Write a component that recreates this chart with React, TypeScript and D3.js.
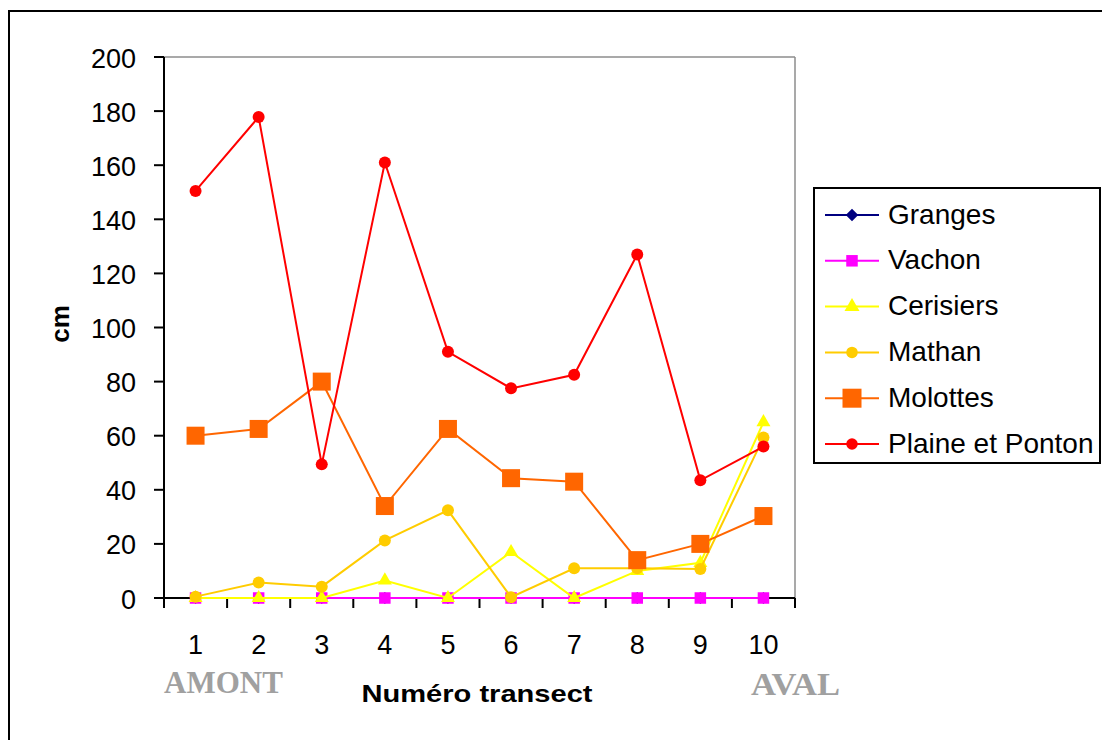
import React from "react";
import * as d3 from "d3";

const categories = ["1", "2", "3", "4", "5", "6", "7", "8", "9", "10"];
const yTicks = [0, 20, 40, 60, 80, 100, 120, 140, 160, 180, 200];

const granges = [0, 0, 0, 0, 0, 0, 0, 0, 0, 0];
const vachon = [0, 0, 0, 0, 0, 0, 0, 0, 0, 0];
const cerisiers = [0, 0, 0, 6.5, 0, 17, 0, 10, 13, 65];
const mathan = [0.5, 5.7, 4.2, 21.3, 32.4, 0.3, 11, 11, 10.7, 59.3];
const molottes = [60, 62.5, 80, 34, 62.5, 44.3, 43, 14, 20, 30.3];
const plaine = [150.5, 177.8, 49.4, 161, 91, 77.5, 82.5, 127, 43.5, 56];

const seriesNames = ["Granges", "Vachon", "Cerisiers", "Mathan", "Molottes", "Plaine et Ponton"];
const seriesValues = [granges, vachon, cerisiers, mathan, molottes, plaine];
const seriesColors = ["#000080", "#FF00FF", "#FFFF00", "#FFCC00", "#FF6600", "#FF0000"];
const seriesMarkers = ["diamond", "square", "triangle", "circle", "bigsquare", "circle"];
const markerSizes = [12, 11.5, 14, 12, 18, 12];
const legendMarkerSizes = [12.5, 11.5, 15, 11.5, 19, 11.5];

function Marker({ kind, x, y, color, size }: { kind: string; x: number; y: number; color: string; size: number }) {
  if (kind === "circle") return <circle cx={x} cy={y} r={size / 2} fill={color} />;
  if (kind === "square" || kind === "bigsquare")
    return <rect x={x - size / 2} y={y - size / 2} width={size} height={size} fill={color} />;
  if (kind === "diamond") {
    const h = size / 2;
    return <path d={`M${x},${y - h}L${x + h},${y}L${x},${y + h}L${x - h},${y}Z`} fill={color} />;
  }
  const area = (Math.sqrt(3) / 4) * size * size;
  const p = d3.symbol().type(d3.symbolTriangle).size(area)() as string;
  return <path d={p} transform={`translate(${x},${y})`} fill={color} />;
}

export default function App() {
  const x = d3.scaleBand<string>().domain(categories).range([164, 795]).padding(0);
  const y = d3.scaleLinear().domain([0, 200]).range([598, 57]);
  const cx = (c: string) => (x(c) as number) + x.bandwidth() / 2;
  const line = d3
    .line<number>()
    .x((_, i) => cx(categories[i]))
    .y((d) => y(d));

  const font = "'Liberation Sans', Arial, sans-serif";
  const serif = "'Liberation Serif', 'Times New Roman', serif";
  const legendRowY = (i: number) => 215 + i * 45.8;

  return (
    <svg
      width={1102}
      height={740}
      style={{ position: "absolute", left: 0, top: 0, background: "#fff" }}
      fontFamily={font}
    >
      <rect x={0} y={0} width={1102} height={740} fill="#fff" />
      <rect x={9} y={11} width={1110} height={760} fill="none" stroke="#000" strokeWidth={2} />

      {/* plot frame */}
      <line x1={164} y1={57} x2={795} y2={57} stroke="#8c8c8c" strokeWidth={1.5} />
      <line x1={795} y1={57} x2={795} y2={598} stroke="#8c8c8c" strokeWidth={1.5} />

      {/* y axis */}
      <line x1={164} y1={57} x2={164} y2={599} stroke="#000" strokeWidth={2} />
      {yTicks.map((t) => (
        <g key={t}>
          <line x1={154} y1={y(t)} x2={164} y2={y(t)} stroke="#000" strokeWidth={2} />
          <text x={136} y={y(t) + 10.5} textAnchor="end" fontSize={27}>
            {t}
          </text>
        </g>
      ))}

      {/* x axis */}
      <line x1={163} y1={598} x2={795} y2={598} stroke="#000" strokeWidth={2} />
      {categories.map((c) => (
        <line key={"t" + c} x1={x(c) as number} y1={598} x2={x(c) as number} y2={608} stroke="#000" strokeWidth={2} />
      ))}
      <line x1={795} y1={598} x2={795} y2={608} stroke="#000" strokeWidth={2} />
      {categories.map((c) => (
        <text key={"l" + c} x={cx(c)} y={654} textAnchor="middle" fontSize={27}>
          {c}
        </text>
      ))}

      {/* series */}
      {seriesValues.map((vals, si) => (
        <g key={seriesNames[si]}>
          <path d={line(vals) as string} fill="none" stroke={seriesColors[si]} strokeWidth={2} />
          {vals.map((v, i) => (
            <Marker
              key={i}
              kind={seriesMarkers[si]}
              x={cx(categories[i])}
              y={y(v)}
              color={seriesColors[si]}
              size={markerSizes[si]}
            />
          ))}
        </g>
      ))}

      {/* axis titles */}
      <text transform="translate(69,324) rotate(-90)" textAnchor="middle" fontSize={26} fontWeight="bold">
        cm
      </text>
      <text
        x={477}
        y={702}
        textAnchor="middle"
        fontSize={24}
        fontWeight="bold"
        textLength={231}
        lengthAdjust="spacingAndGlyphs"
      >
        Numéro transect
      </text>
      <text x={164} y={693} fontSize={31} fontWeight="bold" fill="#a0a0a0" fontFamily={serif}>
        AMONT
      </text>
      <text
        x={751}
        y={695}
        fontSize={32}
        fontWeight="bold"
        fill="#a0a0a0"
        fontFamily={serif}
        textLength={89}
        lengthAdjust="spacingAndGlyphs"
      >
        AVAL
      </text>

      {/* legend */}
      <rect x={814} y={188} width={286} height={275} fill="#fff" stroke="#000" strokeWidth={2} />
      {seriesNames.map((n, i) => (
        <g key={"lg" + n}>
          <line x1={825} y1={legendRowY(i)} x2={879} y2={legendRowY(i)} stroke={seriesColors[i]} strokeWidth={2} />
          <Marker kind={seriesMarkers[i]} x={852} y={legendRowY(i)} color={seriesColors[i]} size={legendMarkerSizes[i]} />
          <text x={888} y={legendRowY(i) + 8.5} fontSize={28}>
            {n}
          </text>
        </g>
      ))}
    </svg>
  );
}
